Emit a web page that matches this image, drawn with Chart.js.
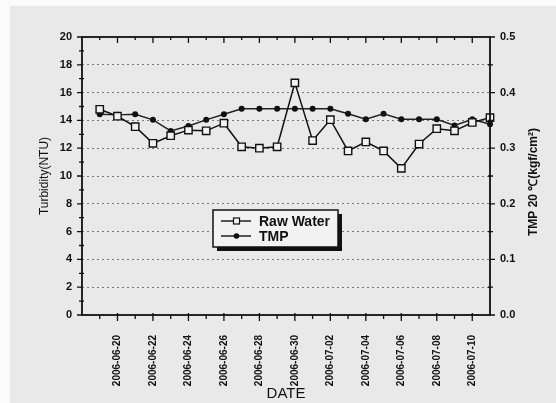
<!DOCTYPE html>
<html>
<head>
<meta charset="utf-8">
<script src="https://cdn.jsdelivr.net/npm/chart.js@4"></script>
<style>
  html, body { margin: 0; padding: 0; background: #e9e9e9; }
  #wrap { width: 556px; height: 403px; }
</style>
</head>
<body>
<div id="wrap"><canvas id="c" width="556" height="403"></canvas></div>
<script>
// ---- data ----
const dates = [
  '2006-06-18','2006-06-19','2006-06-20','2006-06-21','2006-06-22','2006-06-23',
  '2006-06-24','2006-06-25','2006-06-26','2006-06-27','2006-06-28','2006-06-29',
  '2006-06-30','2006-07-01','2006-07-02','2006-07-03','2006-07-04','2006-07-05',
  '2006-07-06','2006-07-07','2006-07-08','2006-07-09','2006-07-10','2006-07-11'
];
const rawWater = [
  null, 14.8, 14.3, 13.55, 12.35, 12.9,
  13.3, 13.25, 13.8, 12.1, 12.0, 12.1,
  16.7, 12.55, 14.05, 11.8, 12.45, 11.8,
  10.55, 12.3, 13.4, 13.25, 13.85, 14.2
];
const tmp = [
  null, 0.361, 0.360, 0.361, 0.351, 0.331,
  0.340, 0.351, 0.361, 0.371, 0.371, 0.371,
  0.371, 0.371, 0.371, 0.362, 0.352, 0.362,
  0.352, 0.352, 0.352, 0.341, 0.352, 0.343
];
const leftTicks = [0, 2, 4, 6, 8, 10, 12, 14, 16, 18, 20];
const rightTicks = [0.0, 0.1, 0.2, 0.3, 0.4, 0.5];
const seriesNames = ['Raw Water', 'TMP'];
const axisTitles = { x: 'DATE', y: 'Turbidity(NTU)', y1: 'TMP 20 \u2103(kgf/cm\u00B2)' };

const BG = '#e9e9e9';
const INK = '#111111';

const framePlugin = {
  id: 'frame',
  beforeDraw(chart) {
    const ctx = chart.ctx;
    ctx.save();
    ctx.fillStyle = BG;
    ctx.fillRect(0, 0, chart.width, chart.height);
    ctx.fillStyle = '#fbfbfb';
    ctx.fillRect(0, 0, chart.width, 6);
    ctx.fillRect(0, 0, 10, chart.height);
    ctx.restore();
  },
  afterDraw(chart) {
    const ctx = chart.ctx;
    const a = chart.chartArea;
    const xs = chart.scales.x, ys = chart.scales.y, y1 = chart.scales.y1;
    ctx.save();
    ctx.strokeStyle = INK;
    ctx.lineWidth = 1.8;
    ctx.strokeRect(a.left, a.top, a.right - a.left, a.bottom - a.top);
    ctx.lineWidth = 1.3;
    ctx.beginPath();
    // x ticks (every day, longer for labelled days)
    for (let i = 1; i < dates.length - 1; i++) {
      const px = xs.getPixelForValue(i);
      const major = i % 2 === 0;
      ctx.moveTo(px, a.bottom - (major ? 2 : 0)); ctx.lineTo(px, a.bottom + (major ? 6 : 4));
      ctx.moveTo(px, a.top); ctx.lineTo(px, a.top + (major ? 6 : 3));
    }
    // left y ticks
    const lmin = leftTicks[0], lmax = leftTicks[leftTicks.length - 1];
    for (let v = lmin; v <= lmax; v += 1) {
      const py = ys.getPixelForValue(v);
      const major = v % 2 === 0;
      ctx.moveTo(a.left - (major ? 5 : 3), py); ctx.lineTo(a.left + (major ? 0 : 2), py);
    }
    // right y ticks
    for (let k = 0; k <= 10; k++) {
      const v = k * 0.05;
      const py = y1.getPixelForValue(v);
      const major = k % 2 === 0;
      ctx.moveTo(a.right - (major ? 0 : 2), py); ctx.lineTo(a.right + (major ? 5 : 3), py);
    }
    ctx.stroke();

    // right axis title (reads bottom to top)
    ctx.fillStyle = INK;
    ctx.font = 'bold 12px "Liberation Sans", Arial, sans-serif';
    ctx.textAlign = 'center';
    ctx.textBaseline = 'middle';
    ctx.translate(534, (a.top + a.bottom) / 2 + 6);
    ctx.rotate(-Math.PI / 2);
    ctx.fillText(axisTitles.y1, 0, 0);
    ctx.restore();

    // legend box
    const lx = 213, ly = 210, lw = 125, lh = 37;
    ctx.save();
    ctx.fillStyle = INK;
    ctx.fillRect(lx + 4, ly + 4, lw, lh);
    ctx.fillStyle = '#f2f2f2';
    ctx.fillRect(lx, ly, lw, lh);
    ctx.strokeStyle = INK;
    ctx.lineWidth = 1.5;
    ctx.strokeRect(lx, ly, lw, lh);
    const rows = [ly + 11, ly + 26];
    chart.data.datasets.forEach((ds, i) => {
      const yy = rows[i];
      ctx.beginPath();
      ctx.lineWidth = 1.4;
      ctx.moveTo(lx + 8, yy); ctx.lineTo(lx + 38, yy);
      ctx.stroke();
      if (i === 0) {
        ctx.fillStyle = '#f2f2f2';
        ctx.fillRect(lx + 20.5, yy - 3, 6, 6);
        ctx.lineWidth = 1.2;
        ctx.strokeRect(lx + 20.5, yy - 3, 6, 6);
      } else {
        ctx.fillStyle = INK;
        ctx.beginPath();
        ctx.arc(lx + 23.5, yy, 2.8, 0, Math.PI * 2);
        ctx.fill();
      }
      ctx.fillStyle = INK;
      ctx.font = 'bold 14px "Liberation Sans", Arial, sans-serif';
      ctx.textAlign = 'left';
      ctx.textBaseline = 'middle';
      ctx.fillText(ds.label, lx + 46, yy + 1);
    });
    ctx.restore();
  }
};

const tickFont = { family: '"Liberation Sans", Arial, sans-serif', size: 11, weight: 'bold' };

new Chart(document.getElementById('c'), {
  type: 'line',
  data: {
    labels: dates,
    datasets: [
      {
        label: seriesNames[0],
        data: rawWater,
        yAxisID: 'y',
        borderColor: INK,
        borderWidth: 1.5,
        pointStyle: 'rect',
        pointRadius: 5.2,
        pointBorderWidth: 1.4,
        pointBackgroundColor: '#f2f2f2',
        pointBorderColor: INK,
        tension: 0,
        spanGaps: true,
        order: 1
      },
      {
        label: seriesNames[1],
        data: tmp,
        yAxisID: 'y1',
        borderColor: '#222',
        borderWidth: 1.4,
        pointStyle: 'circle',
        pointRadius: 3,
        pointBackgroundColor: INK,
        pointBorderColor: INK,
        pointBorderWidth: 0,
        tension: 0,
        spanGaps: true,
        order: 2
      }
    ]
  },
  options: {
    responsive: false,
    animation: false,
    devicePixelRatio: 1,
    layout: { padding: { top: 37, left: 0, right: 0, bottom: 0 } },
    plugins: {
      legend: { display: false },
      tooltip: { enabled: false }
    },
    scales: {
      x: {
        type: 'category',
        offset: false,
        grid: { display: false },
        border: { display: false },
        ticks: {
          autoSkip: false,
          minRotation: 90,
          maxRotation: 90,
          padding: 12,
          color: INK,
          font: { ...tickFont, size: 10 },
          callback: (v, i) => (i > 0 && i % 2 === 0) ? dates[i] : ''
        },
        title: {
          display: true,
          text: axisTitles.x,
          color: INK,
          font: { family: '"Liberation Sans", Arial, sans-serif', size: 15 },
          padding: { top: 0, bottom: 0 }
        },
        afterFit: s => { s.height = 88; }
      },
      y: {
        position: 'left',
        min: leftTicks[0],
        max: leftTicks[leftTicks.length - 1],
        afterBuildTicks: s => { s.ticks = leftTicks.map(v => ({ value: v })); },
        grid: {
          drawTicks: false,
          color: c => (c.tick && (c.tick.value === 0 || c.tick.value === 20)) ? 'rgba(0,0,0,0)' : '#777',
          lineWidth: 1
        },
        border: { display: false, dash: [2, 3] },
        ticks: { padding: 10, color: INK, font: tickFont },
        title: {
          display: true,
          text: axisTitles.y,
          color: INK,
          font: { family: '"Liberation Sans", Arial, sans-serif', size: 12 },
          padding: { top: 37, bottom: 0 }
        },
        afterFit: s => { s.width = 82; }
      },
      y1: {
        position: 'right',
        min: rightTicks[0],
        max: rightTicks[rightTicks.length - 1],
        afterBuildTicks: s => { s.ticks = rightTicks.map(v => ({ value: v })); },
        grid: { drawOnChartArea: false, drawTicks: false },
        border: { display: false },
        ticks: {
          padding: 10,
          color: INK,
          font: tickFont,
          callback: v => Number(v).toFixed(1)
        },
        afterFit: s => { s.width = 66; }
      }
    }
  },
  plugins: [framePlugin]
});
</script>
</body>
</html>
